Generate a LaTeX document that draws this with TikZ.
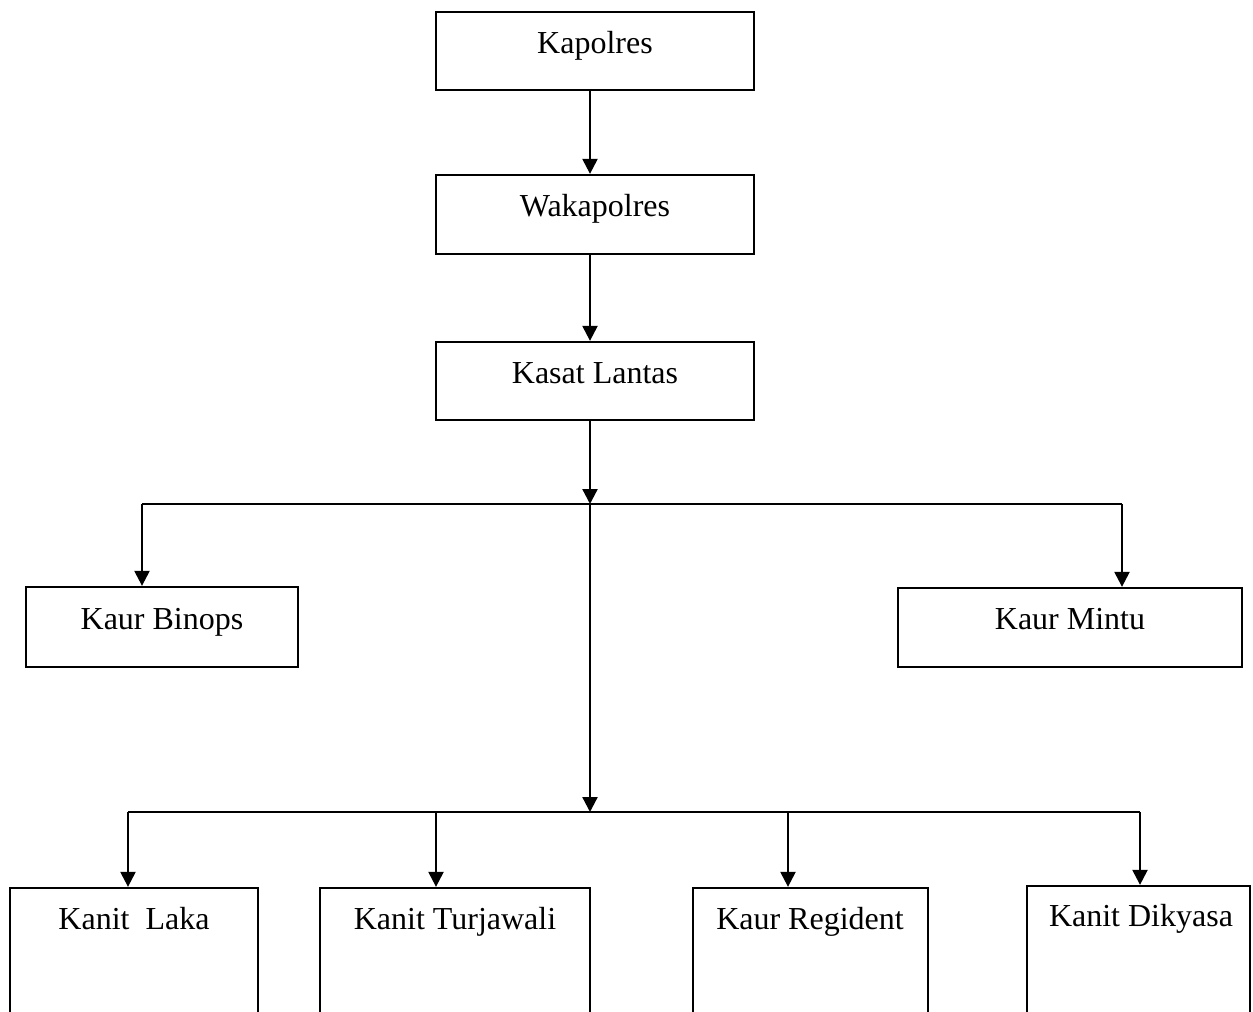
\documentclass[tikz,border=0pt]{standalone}
\usepackage{fontspec}
\setmainfont{Liberation Serif}
\usetikzlibrary{arrows.meta}
\tikzset{
  box/.style={draw, line width=2.3pt, rectangle, inner sep=0pt},
  lbl/.style={anchor=base, inner sep=0pt, font=\fontsize{32}{38}\selectfont},
  conn/.style={line width=2.3pt},
  arr/.style={line width=2.3pt, -{Triangle[length=15pt,width=15pt]}}
}
\begin{document}
\begin{tikzpicture}[x=1pt,y=-1pt]
\path[use as bounding box, fill=white] (0,0) rectangle (1253,1012);
\clip (0,0) rectangle (1253,1012);
% top chain
\node[box, minimum width=318, minimum height=78] (kapolres) at (595,51) {};
\node[lbl] (tkapolres) at (595,53) {Kapolres};
\node[box, minimum width=318, minimum height=79] (waka) at (595,214.5) {};
\node[lbl] (twaka) at (595,216) {Wakapolres};
\node[box, minimum width=318, minimum height=78] (kasat) at (595,381) {};
\node[lbl] (tkasat) at (595,383) {Kasat Lantas};
% middle
\node[box, minimum width=272, minimum height=80] (binops) at (162,627) {};
\node[lbl] (tbinops) at (162,629) {Kaur Binops};
\node[box, minimum width=344, minimum height=79] (mintu) at (1070,627.5) {};
\node[lbl] (tmintu) at (1070,629) {Kaur Mintu};
% bottom
\node[box, minimum width=248, minimum height=150] (laka) at (134,963) {};
\node[lbl] (tlaka) at (134,929) {Kanit~ Laka};
\node[box, minimum width=270, minimum height=150] (turja) at (455,963) {};
\node[lbl] (tturja) at (455,929) {Kanit Turjawali};
\node[box, minimum width=235, minimum height=150] (regid) at (810.5,963) {};
\node[lbl] (tregid) at (810,929) {Kaur Regident};
\node[box, minimum width=223, minimum height=154] (dikya) at (1138.5,963) {};
\node[lbl] (tdikya) at (1141,926) {Kanit Dikyasa};
% coordinates
\coordinate (sx) at (590,0);
\coordinate (j1) at (590,504);
\coordinate (j2) at (590,812);
\coordinate (bl) at (142,504);
\coordinate (br) at (1122,504);
\coordinate (c1) at (128,812);
\coordinate (c2) at (436,812);
\coordinate (c3) at (788,812);
\coordinate (c4) at (1140,812);
% connectors
\draw[arr] (sx |- kapolres.south) -- (sx |- waka.north);
\draw[arr] (sx |- waka.south) -- (sx |- kasat.north);
\draw[arr] (sx |- kasat.south) -- (j1);
\draw[conn] (bl) -- (br);
\draw[arr] (bl) -- (bl |- binops.north);
\draw[arr] (br) -- (br |- mintu.north);
\draw[arr] (j1) -- (j2);
\draw[conn] (c1) -- (c4);
\draw[arr] (c1) -- (c1 |- laka.north);
\draw[arr] (c2) -- (c2 |- turja.north);
\draw[arr] (c3) -- (c3 |- regid.north);
\draw[arr] (c4) -- (c4 |- dikya.north);
\end{tikzpicture}
\end{document}
